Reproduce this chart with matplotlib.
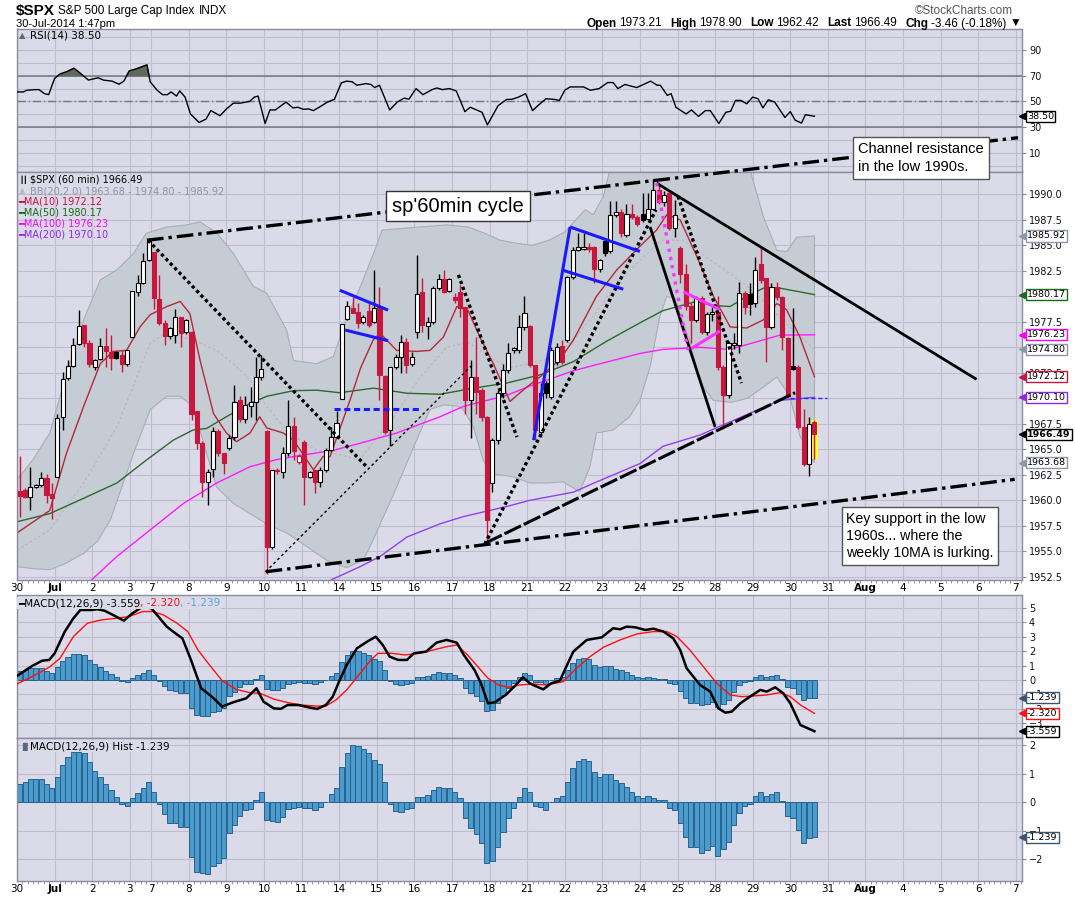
import matplotlib
matplotlib.use("Agg")
import matplotlib.pyplot as plt
import matplotlib.transforms as mtransforms
import numpy as np

plt.rcParams['font.family'] = ['DejaVu Sans']

W, H = 1075, 897
BG = '#dadae8'
GRID = '#bdbdcd'
SPINE = '#8c8c9c'
RED = '#c8173f'
XMAX = 187.15
ARIAL = ['Liberation Sans', 'DejaVu Sans']

# ---------------- data ----------------
day_starts = [0, 7, 14, 21, 25, 32, 39, 46, 53, 60, 67, 74, 81, 88, 95, 102,
              109, 116, 123, 130, 137, 144, 151, 158, 165, 172, 179, 186]
day_labels = ['30', 'Jul', '2', '3', '7', '8', '9', '10', '11', '14', '15', '16',
              '17', '18', '21', '22', '23', '24', '25', '28', '29', '30', '31',
              'Aug', '4', '5', '6', '7']

# hourly candles, 30 Jun .. 30 Jul
opens = [1960.9, 1961.0, 1960.35, 1961.3, 1961.5, 1962.15, 1960.6,
         1962.3, 1968.2, 1971.95, 1973.2, 1975.3, 1977.15, 1975.45,
         1973.1, 1973.9, 1975.1, 1974.5, 1974.5, 1974.25, 1973.4,
         1976.0, 1980.45, 1981.27, 1983.56,
         1984.3, 1979.74, 1977.4, 1976.1, 1976.2, 1978.0, 1976.5,
         1976.53, 1968.75, 1965.6, 1961.8, 1963.1, 1966.8, 1964.6,
         1965.1, 1966.24, 1969.8, 1968.0, 1969.2, 1969.67, 1972.05,
         1966.8, 1955.45, 1963.0, 1962.8, 1964.6, 1967.3, 1963.8,
         1965.75, 1962.3, 1963.0, 1961.83, 1963.0, 1964.93, 1966.24,
         1969.9, 1977.74, 1978.9, 1978.5, 1977.5, 1978.6, 1977.5,
         1979.05, 1972.2, 1966.9, 1973.1, 1974.08, 1975.55, 1973.4,
         1976.47, 1980.45, 1977.09, 1977.5, 1980.78, 1981.66, 1980.5,
         1979.96, 1980.45, 1978.92, 1969.83, 1972.1, 1970.8, 1968.2,
         1961.66, 1965.9, 1970.5, 1972.77, 1974.74, 1974.74, 1977.02,
         1977.09, 1973.27, 1966.73, 1971.47, 1970.16, 1973.6, 1975.13,
         1975.7, 1981.92, 1984.54, 1984.6, 1984.8, 1984.8, 1982.7,
         1985.45, 1984.4, 1988.0, 1988.3, 1986.0, 1988.1, 1987.8,
         1988.1, 1987.6, 1988.6, 1990.4, 1989.2, 1990.1, 1986.7,
         1984.7, 1982.2, 1979.1, 1977.7, 1979.8, 1976.5, 1978.3,
         1978.5, 1973.1, 1970.3, 1975.2, 1975.2, 1980.3, 1980.2,
         1979.3, 1983.2, 1981.8, 1977.0, 1980.9, 1979.96, 1975.9,
         1973.21, 1973.1, 1967.2, 1963.6, 1967.7]
highs = [1964.3, 1961.2, 1963.3, 1961.6, 1962.8, 1962.6, 1961.7,
         1968.5, 1972.6, 1973.75, 1975.9, 1978.65, 1977.2, 1975.7,
         1973.9, 1975.9, 1976.9, 1976.2, 1974.6, 1974.7, 1974.75,
         1980.55, 1982.1, 1984.2, 1985.7,
         1984.3, 1982.1, 1977.7, 1977.0, 1978.8, 1978.0, 1977.8,
         1976.6, 1968.8, 1965.8, 1963.1, 1967.2, 1967.0, 1964.6,
         1966.4, 1971.3, 1970.2, 1970.2, 1971.15, 1974.1, 1974.25,
         1966.9, 1963.0, 1963.2, 1965.25, 1969.8, 1968.2, 1964.5,
         1965.9, 1962.9, 1963.0, 1963.3, 1965.1, 1967.2, 1968.75,
         1977.3, 1979.5, 1979.9, 1979.3, 1978.2, 1979.3, 1982.6,
         1980.95, 1972.3, 1973.1, 1974.3, 1976.2, 1975.9, 1974.5,
         1984.05, 1981.76, 1978.0, 1981.0, 1982.2, 1982.58, 1981.8,
         1980.3, 1981.1, 1979.0, 1973.75, 1976.04, 1971.0, 1968.3,
         1966.07, 1970.8, 1973.4, 1975.4, 1975.0, 1978.2, 1980.03,
         1977.2, 1973.3, 1971.5, 1971.7, 1975.0, 1975.4, 1975.7,
         1982.0, 1984.87, 1986.2, 1986.2, 1985.2, 1984.9, 1983.7,
         1985.5, 1989.3, 1989.3, 1988.6, 1989.1, 1989.1, 1988.0,
         1990.1, 1990.1, 1991.5, 1991.2, 1990.3, 1990.2, 1989.4,
         1984.9, 1983.2, 1979.3, 1980.0, 1980.0, 1978.5, 1979.0,
         1980.0, 1973.3, 1975.6, 1976.4, 1981.4, 1980.5, 1981.3,
         1983.9, 1984.7, 1981.8, 1981.3, 1981.4, 1980.0, 1976.0,
         1978.9, 1973.3, 1969.0, 1968.2, 1967.9]
lows = [1958.4, 1960.2, 1959.05, 1961.2, 1961.3, 1959.7, 1958.2,
        1962.3, 1966.9, 1971.8, 1973.1, 1975.2, 1975.0, 1973.1,
        1972.8, 1973.75, 1973.1, 1972.8, 1973.9, 1972.6, 1973.2,
        1976.0, 1980.0, 1981.2, 1983.5,
        1978.8, 1977.2, 1975.2, 1975.8, 1975.4, 1975.0, 1976.3,
        1967.9, 1965.0, 1960.35, 1959.5, 1962.3, 1964.3, 1962.6,
        1964.9, 1965.9, 1967.7, 1967.55, 1968.2, 1967.9, 1971.8,
        1952.8, 1955.2, 1962.6, 1962.15, 1964.3, 1963.95, 1963.6,
        1959.5, 1962.2, 1960.75, 1961.35, 1962.8, 1964.8, 1966.2,
        1969.9, 1977.7, 1978.4, 1976.9, 1977.3, 1977.0, 1977.4,
        1969.83, 1966.5, 1965.3, 1972.9, 1972.45, 1972.45, 1973.2,
        1975.9, 1976.5, 1975.78, 1977.3, 1980.6, 1980.3, 1980.4,
        1979.3, 1978.0, 1968.5, 1966.07, 1968.5, 1967.8, 1955.78,
        1960.85, 1965.5, 1970.0, 1972.45, 1974.4, 1974.4, 1976.7,
        1973.1, 1965.9, 1966.2, 1970.0, 1969.9, 1973.3, 1973.4,
        1975.5, 1981.7, 1984.4, 1984.5, 1984.3, 1981.3, 1982.4,
        1984.0, 1984.2, 1987.8, 1985.8, 1985.8, 1987.6, 1986.9,
        1987.3, 1987.5, 1988.5, 1989.1, 1988.9, 1986.5, 1985.8,
        1981.3, 1978.7, 1975.4, 1977.5, 1976.3, 1976.2, 1977.6,
        1972.8, 1967.2, 1970.0, 1974.8, 1974.4, 1978.3, 1978.2,
        1979.0, 1981.3, 1973.6, 1976.8, 1979.6, 1974.7, 1970.0,
        1972.8, 1967.0, 1963.4, 1962.42, 1964.1]
closes = [1960.4, 1960.35, 1961.3, 1961.5, 1962.15, 1960.5, 1960.2,
          1968.1, 1971.9, 1973.2, 1975.2, 1977.1, 1975.45, 1973.35,
          1973.8, 1975.1, 1974.6, 1974.0, 1974.0, 1973.4, 1974.7,
          1980.55, 1981.27, 1983.5, 1985.45,
          1979.8, 1977.4, 1976.1, 1976.86, 1978.0, 1976.37, 1977.68,
          1968.5, 1965.6, 1961.8, 1962.8, 1966.8, 1964.6, 1963.7,
          1966.1, 1969.67, 1968.0, 1969.35, 1969.67, 1972.05, 1972.9,
          1955.45, 1962.97, 1962.9, 1964.6, 1967.3, 1964.8, 1964.35,
          1962.3, 1962.8, 1961.83, 1963.0, 1964.93, 1966.24, 1967.6,
          1977.25, 1979.05, 1978.4, 1977.35, 1978.0, 1977.2, 1978.9,
          1972.28, 1966.73, 1973.1, 1974.08, 1975.55, 1973.27, 1974.08,
          1980.22, 1977.2, 1977.5, 1980.78, 1981.66, 1980.45, 1981.66,
          1979.64, 1978.9, 1969.83, 1972.06, 1970.65, 1968.2, 1958.07,
          1965.9, 1970.5, 1972.77, 1974.4, 1974.9, 1977.02, 1978.33,
          1973.27, 1966.9, 1970.5, 1970.5, 1974.74, 1975.06, 1973.6,
          1981.92, 1984.54, 1984.8, 1984.8, 1984.6, 1982.7, 1983.6,
          1984.2, 1988.0, 1988.3, 1986.2, 1988.1, 1987.8, 1987.05,
          1987.5, 1988.6, 1990.4, 1989.2, 1989.9, 1986.7, 1988.0,
          1982.2, 1979.1, 1977.7, 1979.8, 1976.5, 1978.3, 1978.5,
          1973.1, 1970.3, 1975.4, 1975.4, 1980.3, 1979.0, 1979.2,
          1982.6, 1981.6, 1977.0, 1980.9, 1979.96, 1976.0, 1970.2,
          1972.9, 1967.2, 1963.6, 1967.5, 1966.49]

# overlays (x in bar units, value)
ma10 = [(0, 1956.8), (6.1, 1959.0), (9.2, 1964.6), (12.4, 1969.2), (15.5, 1973.4),
        (17.9, 1974.6), (20.4, 1974.7), (22.9, 1977.0), (24.8, 1978.2), (27.9, 1979.0),
        (30.4, 1979.5), (32.2, 1978.3), (34.1, 1973.7), (36.6, 1968.5), (39.0, 1966.6),
        (40.9, 1965.75), (43.4, 1966.6), (45.2, 1968.2), (46.5, 1967.1), (49.6, 1966.6),
        (51.5, 1965.9), (55.2, 1963.0), (57.0, 1964.3), (58.3, 1964.3), (62.0, 1969.8),
        (64.0, 1973.0), (66.3, 1975.7), (67.6, 1976.4), (70.7, 1974.7), (74.4, 1974.6),
        (76.9, 1974.7), (79.4, 1976.0), (81.9, 1979.0), (84.0, 1978.6), (86.2, 1976.0),
        (88.7, 1973.4), (91.8, 1969.7), (94.9, 1971.1), (97.4, 1972.1), (101.1, 1973.8),
        (103.6, 1975.7), (107.9, 1980.0), (111.7, 1982.6), (116.0, 1984.9), (119.1, 1986.5),
        (121.0, 1988.0), (123.5, 1987.5), (126.6, 1983.9), (129.7, 1980.0), (132.8, 1977.0),
        (135.9, 1976.9), (139.0, 1977.7), (141.5, 1979.3), (143.3, 1978.7), (145.8, 1976.0),
        (148.5, 1972.12)]
ma50 = [(0, 1957.9), (6.1, 1958.7), (12.4, 1960.2), (18.6, 1961.7), (24.1, 1963.95),
        (29.1, 1965.9), (32.8, 1966.9), (35.3, 1967.05), (39.0, 1968.2), (43.4, 1969.5),
        (46.5, 1970.2), (51.5, 1970.75), (55.8, 1970.8), (60.1, 1970.55), (66.4, 1971.0),
        (72.6, 1970.5), (78.8, 1970.4), (85.0, 1971.0), (91.2, 1971.5), (97.4, 1972.3),
        (103.6, 1973.6), (109.8, 1975.6), (116.0, 1977.4), (120.3, 1978.6), (126.5, 1979.5),
        (129.7, 1979.1), (132.8, 1979.0), (135.9, 1980.0), (139.0, 1980.8), (142.1, 1980.8),
        (148.5, 1980.17)]
ma100 = [(13.9, 1952.2), (18.6, 1954.5), (24.8, 1957.1), (31.0, 1959.7), (37.2, 1961.7),
         (43.4, 1963.3), (48.4, 1964.0), (52.7, 1964.4), (58.9, 1964.9), (63.9, 1965.6),
         (70.7, 1966.6), (78.8, 1968.2), (83.1, 1969.2), (91.2, 1970.3), (95.5, 1971.2),
         (103.6, 1972.7), (107.9, 1973.3), (116.0, 1974.4), (120.3, 1974.8), (127.2, 1975.0),
         (132.8, 1974.8), (142.1, 1976.2), (148.5, 1976.23)]
ma200 = [(58.5, 1952.2), (63.9, 1953.5), (67.6, 1954.5), (72.6, 1956.4), (78.8, 1957.7),
         (83.1, 1958.4), (91.2, 1959.4), (95.5, 1960.0), (103.6, 1960.8), (107.9, 1961.8),
         (116.0, 1963.6), (120.3, 1965.3), (127.2, 1966.4), (130.2, 1967.1), (135.9, 1968.4),
         (142.1, 1969.8), (148.5, 1970.10)]
bb_upper = [(0, 1962.0), (3, 1964.0), (6.1, 1966.6), (9, 1972.0), (12.4, 1977.7),
            (15.5, 1981.6), (18.6, 1982.6), (21.7, 1984.2), (24.1, 1986.2), (27.9, 1986.8),
            (31.6, 1987.0), (34.1, 1987.3), (37.2, 1986.2), (40.3, 1984.2), (44.0, 1981.0),
            (46.5, 1980.3), (50.2, 1976.7), (51.5, 1973.7), (55.8, 1973.4), (58.9, 1974.1),
            (62.0, 1978.7), (63.9, 1980.9), (66.4, 1984.2), (68.0, 1986.5), (75, 1986.8),
            (80, 1987.0), (84, 1986.8), (87, 1986.2), (90, 1985.5), (93, 1985.2),
            (96, 1985.0), (99, 1985.5), (102, 1986.3), (105.8, 1988.5), (107.3, 1988.0),
            (109.2, 1989.8), (110.4, 1992.4), (112, 1993.0), (115, 1993.0), (118, 1992.5),
            (120, 1992.5), (122, 1993.0), (124, 1994.5), (127, 1997.0), (130, 1997.0),
            (133, 1995.5), (136.5, 1992.4), (139, 1987.8), (141.5, 1984.5), (143.4, 1984.4),
            (145.2, 1985.8), (148.5, 1985.92)]
bb_lower = [(0, 1953.5), (3, 1953.3), (6.1, 1953.2), (9, 1953.8), (12.4, 1954.8),
            (15, 1956.0), (17.4, 1958.1), (21.7, 1964.6), (24.8, 1968.9), (27.9, 1970.2),
            (30.4, 1970.2), (32.8, 1969.2), (35.3, 1964.6), (37.2, 1961.3), (40.3, 1959.7),
            (43.4, 1958.7), (46.5, 1957.7), (50.2, 1956.8), (53.9, 1955.5), (57.7, 1954.1),
            (61.4, 1953.4), (64.5, 1954.15), (66.3, 1956.1), (70.7, 1961.3), (74.4, 1965.9),
            (76.9, 1968.9), (79.4, 1969.35), (81.9, 1969.25), (83.1, 1968.9), (85.0, 1967.2),
            (86.8, 1963.95), (88.1, 1962.65), (92.4, 1962.3), (95.5, 1961.7), (98.6, 1961.7),
            (101.7, 1961.8), (104.8, 1960.85), (106.7, 1963.3), (107.9, 1966.6), (111.0, 1966.9),
            (114.1, 1968.2), (116.0, 1969.8), (117.9, 1973.1), (119.7, 1978.0), (121.0, 1980.0),
            (122.5, 1979.8), (124.0, 1977.5), (125.3, 1975.5), (127.2, 1971.5), (129.7, 1969.8),
            (133, 1969.6), (136, 1970.0), (139, 1971.1), (141.5, 1972.1), (143.9, 1970.2),
            (145.8, 1966.3), (148.5, 1963.68)]
bb_mid = [(0, 1955.1), (6.1, 1957.1), (12.4, 1961.7), (18.6, 1967.2), (24.8, 1975.4),
          (27.9, 1976.4), (31.0, 1976.0), (34.1, 1975.4), (37.2, 1974.7), (40.3, 1973.4),
          (43.4, 1971.8), (46.5, 1969.2), (49.6, 1967.2), (52.7, 1965.9), (55.8, 1964.9),
          (58.9, 1964.6), (63.9, 1964.0), (66.0, 1965.5), (70, 1968.0), (75, 1972.0),
          (80, 1975.0), (84, 1975.5), (88, 1974.0), (92, 1973.0), (96, 1973.5),
          (100, 1974.0), (104, 1976.0), (108, 1978.5), (112, 1981.5), (116, 1983.5),
          (120, 1985.5), (124, 1985.5), (128, 1984.0), (132, 1982.5), (136, 1981.0),
          (140, 1979.0), (144, 1977.0), (148.5, 1974.8)]

rsi = [(0, 57.4), (1.2, 57.4), (1.8, 58.7), (3.4, 59.2), (4.1, 59.2), (5.1, 56.1),
       (5.9, 55.3), (7.0, 67.9), (8.0, 71.3), (9.3, 73.2), (10.6, 75.8), (12.2, 70.5),
       (13.3, 66.6), (15.1, 68.4), (16.1, 66.6), (17.7, 65.8), (19.0, 63.4), (19.9, 65.8),
       (20.9, 73.7), (22.2, 75.3), (24.2, 78.4), (24.8, 65.3), (26.1, 58.7), (27.1, 55.3),
       (28.0, 55.3), (28.7, 57.4), (29.7, 54.2), (30.3, 58.2), (31.3, 53.4), (32.3, 40.3),
       (33.9, 33.7), (35.2, 36.3), (36.1, 42.9), (37.8, 38.9), (39.0, 44.2), (40.3, 48.7),
       (41.6, 48.7), (43.3, 50.0), (44.2, 53.4), (44.9, 54.2), (46.2, 32.9), (47.1, 43.4),
       (48.1, 43.4), (50.1, 49.5), (51.4, 45.0), (52.3, 45.5), (53.3, 43.9), (54.3, 44.2),
       (55.2, 42.9), (56.5, 46.1), (57.8, 49.5), (59.1, 51.6), (60.4, 64.5), (61.4, 65.8),
       (62.4, 65.3), (63.3, 62.6), (65.0, 63.9), (65.9, 63.2), (66.6, 60.8), (67.5, 62.6),
       (69.4, 43.4), (70.8, 49.5), (72.1, 52.6), (73.0, 51.8), (74.3, 60.0), (75.6, 55.3),
       (77.3, 59.2), (78.2, 60.5), (79.2, 59.2), (80.5, 60.0), (81.8, 58.2), (83.4, 42.1),
       (84.4, 45.5), (86.6, 41.6), (87.6, 31.8), (89.6, 46.8), (91.2, 51.6), (92.1, 51.6),
       (93.4, 53.4), (94.7, 56.1), (96.0, 42.9), (97.2, 47.5), (98.5, 52.1), (100.1, 51.6),
       (101.0, 50.8), (102.0, 58.7), (103.0, 61.3), (105.5, 61.3), (106.8, 58.7),
       (108.4, 60.0), (110.0, 64.7), (111.0, 64.7), (111.9, 60.0), (113.2, 63.2),
       (115.4, 60.8), (118.0, 65.8), (119.2, 62.6), (119.8, 62.6), (121.1, 54.7),
       (121.8, 56.1), (122.7, 45.5), (124.6, 40.3), (125.6, 43.4), (126.9, 38.4),
       (128.2, 42.9), (129.1, 42.9), (130.7, 32.9), (132.0, 41.6), (132.9, 42.4),
       (133.8, 50.8), (134.8, 50.8), (135.9, 48.2), (137.0, 53.4), (138.0, 52.1),
       (138.9, 45.0), (139.9, 51.3), (141.1, 49.5), (143.0, 37.6), (144.0, 42.1),
       (144.9, 35.5), (146.1, 33.2), (146.8, 39.7), (148.5, 38.5)]

macd = [(0, 0.28), (2.8, 0.97), (4.7, 1.34), (6.0, 1.39), (7.0, 1.85), (8.9, 3.36),
        (10.5, 4.28), (11.8, 4.86), (13.8, 4.86), (15.0, 4.91), (16.3, 4.81), (17.9, 4.51),
        (19.9, 4.12), (21.5, 4.63), (23.4, 5.09), (25.0, 4.98), (26.6, 4.28), (27.9, 3.70),
        (29.5, 3.24), (30.8, 2.89), (32.4, 1.39), (34.3, -0.58), (36.3, -1.16), (38.2, -1.85),
        (40.1, -1.57), (42.7, -1.27), (44.6, -0.58), (45.9, -1.50), (47.8, -1.97),
        (49.1, -2.01), (50.4, -1.74), (52.4, -1.74), (54.3, -1.90), (55.9, -2.01),
        (57.5, -1.74), (58.8, -1.16), (60.1, 0.0), (61.4, 1.04), (63.3, 2.20), (65.2, 2.66),
        (66.8, 3.01), (68.1, 2.43), (69.4, 1.62), (71.0, 1.39), (72.6, 1.39), (73.9, 1.85),
        (76.2, 1.97), (78.1, 2.59), (80.0, 2.78), (81.9, 2.59), (83.2, 1.74), (85.2, 0.69),
        (86.4, -0.23), (87.7, -1.62), (89.0, -1.55), (91.0, -1.04), (92.9, -0.35),
        (94.2, 0.19), (95.5, -0.23), (96.1, -0.35), (98.0, -0.65), (99.5, -0.23),
        (101.1, -0.05), (102.0, 0.69), (103.6, 1.97), (106.1, 2.78), (108.9, 2.96),
        (111.0, 3.59), (112.3, 3.52), (113.5, 3.70), (115.1, 3.66), (117.0, 3.47),
        (118.5, 3.56), (120.4, 3.36), (122.2, 2.89), (123.5, 2.08), (124.7, 0.81),
        (127.2, -0.35), (129.1, -0.81), (130.6, -1.97), (131.9, -2.27), (133.1, -2.20),
        (134.7, -1.62), (136.5, -1.16), (138.4, -0.69), (139.6, -0.81), (141.2, -0.51),
        (142.7, -0.93), (144.0, -1.62), (145.9, -3.13), (148.5, -3.559)]
signal = [(0, -0.28), (2.8, 0.23), (6.0, 0.88), (8.0, 1.50), (10.5, 3.01), (13.1, 3.94),
          (15.7, 4.17), (18.3, 4.28), (20.8, 4.40), (23.4, 4.75), (25.3, 4.75), (27.3, 4.51),
          (29.8, 3.94), (31.8, 3.36), (33.7, 2.08), (35.6, 1.16), (38.2, -0.05), (40.8, -0.65),
          (43.3, -0.88), (45.3, -0.93), (47.9, -1.34), (50.4, -1.57), (53.0, -1.74),
          (55.6, -1.81), (57.5, -1.81), (59.4, -1.39), (61.4, -0.69), (63.9, 0.46),
          (65.9, 1.39), (67.2, 1.85), (69.7, 1.85), (72.3, 1.74), (74.9, 1.85), (77.5, 2.08),
          (80.0, 2.31), (81.9, 2.43), (83.9, 1.74), (85.8, 0.93), (87.7, 0.12), (89.7, -0.35),
          (91.6, -0.51), (93.5, -0.35), (96.1, -0.28), (98.6, -0.35), (101.7, -0.12),
          (104.2, 0.81), (106.7, 1.62), (109.2, 2.27), (112.3, 2.78), (115.4, 3.19),
          (118.5, 3.36), (121.0, 3.36), (122.9, 3.01), (125.3, 2.08), (127.8, 0.93),
          (130.3, -0.23), (132.8, -1.04), (135.0, -1.16), (137.2, -1.11), (139.6, -1.04),
          (142.1, -0.88), (144.0, -1.16), (145.9, -1.74), (148.5, -2.32)]
hist = [0.65, 0.71, 0.80, 0.80, 0.80, 0.65, 0.51,
        0.87, 1.30, 1.57, 1.77, 1.77, 1.74, 1.39,
        1.10, 0.89, 0.65, 0.42, 0.19, -0.05, -0.14,
        0.13, 0.33, 0.51, 0.69,
        0.37, -0.05, -0.42, -0.73, -0.75, -0.89, -0.89,
        -1.94, -2.44, -2.50, -2.53, -2.25, -2.13, -1.98,
        -1.10, -0.81, -0.49, -0.28, -0.25, 0.09, 0.34,
        -0.63, -0.67, -0.71, -0.54, -0.25, -0.22, -0.16,
        -0.22, -0.22, -0.26, -0.16, 0.02, 0.28, 0.48,
        1.22, 1.74, 2.00, 1.98, 1.85, 1.71, 1.47,
        1.32, 0.71, -0.05, -0.30, -0.34, -0.25, -0.22,
        0.19, 0.19, 0.25, 0.41, 0.54, 0.51, 0.51,
        0.34, 0.16, -0.57, -0.90, -1.13, -1.43, -2.15,
        -2.06, -1.57, -1.04, -0.57, -0.19, 0.19, 0.51,
        0.36, -0.14, -0.16, -0.26, -0.01, 0.16, 0.21,
        0.71, 1.18, 1.45, 1.50, 1.45, 1.04, 0.89,
        0.98, 0.98, 0.77, 0.68, 0.54, 0.36, 0.22,
        0.16, 0.22, 0.16, 0.09, 0.07, -0.19, -0.28,
        -0.75, -1.24, -1.59, -1.59, -1.77, -1.68, -1.53,
        -1.89, -1.66, -1.40, -0.81, -0.38, -0.14, -0.05,
        0.22, 0.36, 0.21, 0.30, 0.34, 0.05, -0.49,
        -0.57, -0.98, -1.42, -1.27, -1.239]

# hand drawn annotation lines: (x0, p0, x1, p1, style)
drawn_lines = [
    (24.2, 1985.5, 186.4, 1995.55, 'channel'),
    (46.3, 1953.0, 185.8, 1962.06, 'channel'),
    (24.4, 1985.5, 65.1, 1963.3, 'dots'),
    (46.3, 1953.0, 85.0, 1973.4, 'thin'),
    (60.1, 1980.6, 69.1, 1978.65, 'blue'),
    (61.1, 1976.7, 69.1, 1975.65, 'blue'),
    (59.1, 1968.95, 75.0, 1968.95, 'bluedash'),
    (82.2, 1982.1, 93.1, 1966.2, 'dots'),
    (87.1, 1955.7, 119.0, 1988.5, 'dots'),
    (87.2, 1955.8, 144.9, 1970.55, 'dashed'),
    (96.2, 1965.9, 103.0, 1986.8, 'blue'),
    (103.0, 1986.8, 116.0, 1984.4, 'blue'),
    (101.4, 1982.6, 112.9, 1980.7, 'blue'),
    (119.1, 1991.1, 178.7, 1971.86, 'solid'),
    (117.9, 1986.8, 130.0, 1967.2, 'solid'),
    (123.1, 1989.8, 134.9, 1971.5, 'dots'),
    (119.1, 1991.1, 125.0, 1974.6, 'magdots'),
    (124.1, 1980.45, 130.9, 1978.7, 'magenta'),
    (125.6, 1974.9, 130.9, 1976.6, 'magenta'),
    (144.0, 1970.0, 150.8, 1970.0, 'thinblue'),
]

line_styles = {
    'channel': dict(color='black', lw=2.4, ls=(0, (5, 1.5, 1, 1.5))),
    'dots': dict(color='black', lw=2.4, ls=(0, (1, 0.9))),
    'thin': dict(color='black', lw=1.0, ls=(0, (2, 2))),
    'dashed': dict(color='black', lw=2.2, ls=(0, (6, 1))),
    'solid': dict(color='black', lw=2.0, ls='-'),
    'blue': dict(color='#1a1aff', lw=2.2, ls='-'),
    'bluedash': dict(color='#1a1aff', lw=2.2, ls=(0, (2, 1.2))),
    'thinblue': dict(color='#2a2aff', lw=1.0, ls=(0, (3, 2))),
    'magdots': dict(color='#ff33ff', lw=2.4, ls=(0, (1, 1.5))),
    'magenta': dict(color='#ff33ff', lw=2.2, ls='-'),
}


# ---------------- helpers ----------------
def fy(y):
    return 1 - y / H


def rect(l, t, r, b):
    return [l / W, 1 - b / H, (r - l) / W, (b - t) / H]


def pairs(p):
    xs, vs = zip(*p)
    return np.array(xs), np.array(vs)


fig = plt.figure(figsize=(W / 100, H / 100), dpi=100)
fig.patch.set_facecolor('white')

ax_rsi = fig.add_axes(rect(17, 29, 1022, 172))
ax_p = fig.add_axes(rect(17, 172, 1022, 580))
ax_m = fig.add_axes(rect(17, 595, 1022, 738))
ax_h = fig.add_axes(rect(17, 738, 1022, 881))

for ax in (ax_rsi, ax_p, ax_m, ax_h):
    ax.set_facecolor(BG)
    ax.set_xlim(0, XMAX)
    ax.set_xticks(day_starts)
    ax.set_xticklabels([])
    ax.tick_params(axis='x', length=0)
    ax.yaxis.tick_right()
    ax.tick_params(axis='y', labelsize=7, length=3, pad=2, color=SPINE, labelcolor='#111111')
    ax.grid(True, which='major', color=GRID, lw=0.8)
    ax.set_axisbelow(True)
    for s in ax.spines.values():
        s.set_color(SPINE)
        s.set_linewidth(1.0)

for ax in (ax_p, ax_h):
    ax.set_xticklabels(day_labels, fontsize=7.5)
    ax.tick_params(axis='x', which='major', pad=2, length=0)
    ax.set_xticks(np.arange(0, XMAX, 1), minor=True)
    ax.tick_params(axis='x', which='minor', length=2, color='#8a8a9a', direction='out')
    for lab in ax.get_xticklabels():
        if lab.get_text() in ('Jul', 'Aug'):
            lab.set_fontweight('bold')

blend = lambda ax: mtransforms.blended_transform_factory(ax.transAxes, ax.transData)


def tag(ax, y, s, ec, bold=False):
    ax.text(1.005, y, s, transform=blend(ax), ha='left', va='center', fontsize=6.8,
            fontweight='bold' if bold else 'normal', color='black', clip_on=False, zorder=20,
            bbox=dict(boxstyle='square,pad=0.12', fc='white', ec=ec, lw=1))
    ax.plot([1.0], [y], marker='<', ms=4, color=ec, transform=blend(ax), clip_on=False,
            zorder=19)


# ---------------- RSI ----------------
ax_rsi.set_ylim(-4.8, 106.3)
ax_rsi.set_yticks([10, 30, 50, 70, 90])
ax_rsi.grid(False, axis='y')
for lv in range(0, 101, 10):
    ax_rsi.axhline(lv, color=GRID, lw=0.8, zorder=0.5)
ax_rsi.axhline(70, color='#767686', lw=1.1, zorder=1)
ax_rsi.axhline(30, color='#767686', lw=1.1, zorder=1)
ax_rsi.axhline(50, color='#767686', lw=1.0, ls=(0, (6, 2, 1, 2)), zorder=1)
rx, rv = pairs(rsi)
ax_rsi.fill_between(rx, 70, rv, where=rv > 70, interpolate=True, color='#5e6a5e', zorder=2)
ax_rsi.plot(rx, rv, color='black', lw=1.0, zorder=3)
tag(ax_rsi, 38.5, '38.50', 'black')
fig.text(19 / W, fy(36), '\u25b2', fontsize=6, color='#5e6a5e', va='center')
fig.text(30 / W, fy(36), 'RSI(14) 38.50', fontsize=7.5, va='center')

# ---------------- price ----------------
ax_p.set_ylim(1952.19, 1992.19)
pt = np.arange(1952.5, 1990.01, 2.5)
ax_p.set_yticks(pt)
# labels that sit fully under a value tag are left blank, as on the original
covered = (1980.0, 1975.0, 1970.0)
ax_p.set_yticklabels(['' if any(abs(v - cv) < 0.01 for cv in covered) else '%.1f' % v
                      for v in pt])

ux, uv = pairs(bb_upper)
lx, lv = pairs(bb_lower)
ax_p.fill(np.concatenate([ux, lx[::-1]]), np.concatenate([uv, lv[::-1]]),
          fc='#c6ccd4', ec='#a8aeb6', lw=0.8, zorder=1)
mx, mv = pairs(bb_mid)
ax_p.plot(mx, mv, color='#c8b0bc', lw=0.9, ls=(0, (2, 2)), zorder=1.5)
for series, col, lw in ((ma200, '#9440e8', 1.0), (ma100, '#ff1aff', 1.0),
                        (ma50, '#2a6a2a', 1.0), (ma10, '#b4283c', 1.0)):
    sx, sv = pairs(series)
    ax_p.plot(sx, sv, color=col, lw=lw, zorder=2)

o = np.array(opens)
hi = np.array(highs)
lo = np.array(lows)
c = np.array(closes)
xs = np.arange(len(c)) + 0.5
prev = np.concatenate([[o[0]], c[:-1]])
cols = [RED if c[i] < prev[i] else 'black' for i in range(len(c))]
faces = [cols[i] if c[i] < o[i] else 'white' for i in range(len(c))]
# highlight on the last, still forming bar
ax_p.bar(xs[-1], hi[-1] - lo[-1], bottom=lo[-1], width=1.3, color='#ffff33', zorder=2.8)
ax_p.vlines(xs, lo, hi, colors=cols, lw=1.0, zorder=3)
body_lo = np.minimum(o, c)
body_h = np.maximum(np.abs(c - o), 0.12)
ax_p.bar(xs, body_h, bottom=body_lo, width=0.76, color=faces, edgecolor=cols,
         lw=0.8, zorder=3.2)

for x0, p0, x1, p1, st in drawn_lines:
    ax_p.plot([x0, x1], [p0, p1], clip_on=False, zorder=6, solid_capstyle='butt',
              **line_styles[st])

for v, ec, b in ((1985.92, '#8a98a8', False), (1980.17, '#1a6a1a', False),
                 (1976.23, '#ff00ff', False), (1974.80, '#8a98a8', False),
                 (1972.12, RED, False), (1970.10, '#8a2be2', False),
                 (1966.49, 'black', True), (1963.68, '#8a98a8', False)):
    tag(ax_p, v, '%.2f' % v, ec, b)

legend_rows = [
    (30, 180, '$SPX (60 min) 1966.49', 'black'),
    (30, 191, 'BB(20,2.0) 1963.68 - 1974.80 - 1985.92', '#8c96a0'),
    (18, 201.7, '\u2501MA(10) 1972.12', '#cc1040'),
    (18, 212.4, '\u2501MA(50) 1980.17', '#1a6a1a'),
    (18, 223.2, '\u2501MA(100) 1976.23', '#ff00ff'),
    (18, 234, '\u2501MA(200) 1970.10', '#8a2be2'),
]
for x, y, s, col in legend_rows:
    fig.text(x / W, fy(y), s, fontsize=7, color=col, va='center')
fig.text(19 / W, fy(180), '\u2503\u2503', fontsize=5, color='black', va='center')
fig.text(19 / W, fy(191), '\u25b2', fontsize=6, color='#b8bcc4', va='center')

box = dict(boxstyle='square,pad=0.28', fc='white', ec='#333333', lw=1)
fig.text(458 / W, fy(206), "sp'60min cycle", fontsize=14.5, family=ARIAL,
         ha='center', va='center', bbox=box, zorder=8)
fig.text(858 / W, fy(158), 'Channel resistance\nin the low 1990s.', fontsize=10.5,
         family=ARIAL, ha='left', va='center', linespacing=1.3,
         bbox=dict(boxstyle='square,pad=0.35', fc='white', ec='#555555', lw=1), zorder=8)
fig.text(846 / W, fy(536), 'Key support in the low\n1960s... where the\nweekly 10MA is lurking.',
         fontsize=10.2, family=ARIAL, ha='left', va='center', linespacing=1.3,
         bbox=dict(boxstyle='square,pad=0.3', fc='white', ec='#555555', lw=1), zorder=8)

# ---------------- MACD ----------------
hv = np.array(hist)
hx = np.arange(len(hv)) + 0.5
ax_m.set_ylim(-4.03, 5.9)
ax_m.set_yticks(range(-3, 6))
ax_m.bar(hx, hv, width=0.95, color='#4d9bcc', edgecolor='#25638f', lw=0.7, zorder=2)
sx, sv = pairs(signal)
ax_m.plot(sx, sv, color='#ff1010', lw=1.0, zorder=3)
mx2, mv2 = pairs(macd)
ax_m.plot(mx2, mv2, color='black', lw=1.8, zorder=4)
tag(ax_m, -1.239, '-1.239', '#3c5670')
tag(ax_m, -2.320, '-2.320', '#ff1010')
tag(ax_m, -3.559, '-3.559', 'black')

ax_h.set_ylim(-2.77, 2.25)
ax_h.set_yticks(range(-2, 3))
ax_h.bar(hx, hv, width=0.95, color='#4d9bcc', edgecolor='#25638f', lw=0.7, zorder=2)
tag(ax_h, -1.239, '-1.239', '#3c5670')

renderer = fig.canvas.get_renderer()


def segments(x_left, y, segs, size, right=None, bbox=None, family=None):
    placed = []
    x = 0.0
    last_gap = 0
    for s, bold, col, gap in segs:
        kw = dict(fontsize=size, fontweight='bold' if bold else 'normal', color=col,
                  va='center', zorder=9)
        if family:
            kw['family'] = family
        if bbox:
            kw['bbox'] = bbox
        t = fig.text(0, fy(y), s, **kw)
        w = t.get_window_extent(renderer).width
        placed.append((t, x))
        x += w + gap
        last_gap = gap
    total = x - last_gap
    start = right - total if right is not None else x_left
    for t, off in placed:
        t.set_x((start + off) / W)


lbg = dict(fc=BG, ec='none', pad=0.5)
segments(18, 603, [('\u2501MACD(12,26,9) -3.559', False, 'black', 0),
                   (', -2.320', False, '#ff1010', 0),
                   (', -1.239', False, '#5aa6d6', 0)], 7.5, bbox=lbg)
fig.text(19 / W, fy(746), '\u2590\u258c', fontsize=5.5, color='#5a6a7a', va='center')
fig.text(30 / W, fy(746), 'MACD(12,26,9) Hist -1.239', fontsize=7.5, va='center',
         bbox=lbg)

# ---------------- header ----------------
segments(16, 11, [('$SPX', True, 'black', 5)], 11, family=ARIAL)
segments(58, 11, [('S&P 500 Large Cap Index', False, 'black', 5),
                  ('INDX', False, 'black', 0)], 8.5, family=ARIAL)
fig.text(16 / W, fy(24), '30-Jul-2014 1:47pm', fontsize=8, family=ARIAL, va='center')
fig.text(1013 / W, fy(11), '\u00a9StockCharts.com', fontsize=8.5, family=ARIAL,
         color='#555555', ha='right', va='center')
segments(0, 23.5, [('Open', True, 'black', 3), ('1973.21', False, 'black', 8),
                   ('High', True, 'black', 3), ('1978.90', False, 'black', 8),
                   ('Low', True, 'black', 3), ('1962.42', False, 'black', 8),
                   ('Last', True, 'black', 3), ('1966.49', False, 'black', 8),
                   ('Chg', True, 'black', 3), ('-3.46 (-0.18%)', False, 'black', 3),
                   ('\u25bc', False, 'black', 0)], 8.5, right=1021, family=ARIAL)

fig.savefig('out.png', dpi=100, facecolor='white')
